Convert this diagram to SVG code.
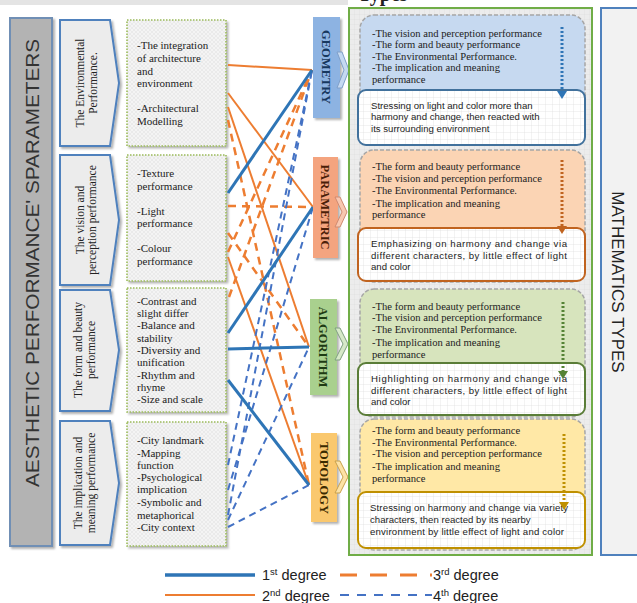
<svg xmlns="http://www.w3.org/2000/svg" width="637" height="603" viewBox="0 0 637 603">
<defs>
<pattern id="hatch" width="4" height="4" patternUnits="userSpaceOnUse">
<rect width="4" height="4" fill="#f4f4f4"/>
<path d="M0 4L4 0M0 0L4 4" stroke="#e2e2e2" stroke-width="0.6"/>
</pattern>
<pattern id="grid" width="7" height="7" patternUnits="userSpaceOnUse">
<rect width="7" height="7" fill="#ffffff"/>
<path d="M7 0V7M0 7H7" stroke="#dedede" stroke-width="0.7"/>
</pattern>
<pattern id="grid2" width="5" height="5" patternUnits="userSpaceOnUse">
<rect width="5" height="5" fill="#ececec"/>
<path d="M5 0V5M0 5H5" stroke="#dcdcdc" stroke-width="0.6"/>
</pattern>
<filter id="sh" x="-20%" y="-20%" width="140%" height="140%">
<feDropShadow dx="2" dy="2" stdDeviation="1.2" flood-color="#000" flood-opacity="0.3"/>
</filter>
<style>
.chev{fill:#ececec;stroke:#4f81bd;stroke-width:2;filter:url(#sh)}
.lt{font-family:"Liberation Serif",serif;font-size:11.5px;fill:#222;text-anchor:middle}
.tb{fill:url(#hatch);stroke:#9bbb59;stroke-width:1.6;stroke-dasharray:1.5 1.5;filter:url(#sh)}
.tx{font-family:"Liberation Serif",serif;font-size:11px;fill:#222}
.cat{font-family:"Liberation Serif",serif;font-size:12.5px;font-weight:bold;text-anchor:middle}
.pn{stroke:#a6a6a6;stroke-width:1.5;stroke-dasharray:4 2}
.wb{fill:url(#grid);stroke-width:2}
.pt{font-family:"Liberation Serif",serif;font-size:10.6px;fill:#222}
.ws{font-family:"Liberation Sans",sans-serif;font-size:9.6px;fill:#222}
.c1{stroke:#2e75b6;stroke-width:3;fill:none}
.c2{stroke:#ed7d31;stroke-width:2;fill:none}
.c3{stroke:#ed7d31;stroke-width:2.5;stroke-dasharray:8 6;fill:none}
.c4{stroke:#4472c4;stroke-width:2;stroke-dasharray:7 5;fill:none}
.lg{font-family:"Liberation Sans",sans-serif;font-size:14.5px;fill:#222}
.dot{stroke-width:3;stroke-dasharray:2 2;fill:none}
</style>
</defs>
<rect width="637" height="603" fill="#ffffff"/>
<rect x="0" y="0" width="348" height="5" fill="#e4e4e4"/>
<text x="358" y="1" font-family="Liberation Serif, serif" font-size="20" font-weight="bold" fill="#222">Types</text>

<g id="banner">
<rect x="10" y="18" width="42" height="528" fill="#b3b3b3" stroke="#6f8fb5" stroke-width="2" filter="url(#sh)"/>
<text transform="translate(39,263) rotate(-90)" text-anchor="middle" font-family="Liberation Sans, sans-serif" font-size="19" fill="#333" textLength="448" lengthAdjust="spacingAndGlyphs">AESTHETIC PERFORMANCE' SPARAMETERS</text>
</g>

<g id="p1">
<polygon class="chev" points="60,20 110,20 119,83 110,146 60,146"/>
<text class="lt" transform="translate(84,83) rotate(-90)">The Environmental</text>
<text class="lt" transform="translate(97,83) rotate(-90)">Performance.</text>
</g>
<g id="p2">
<polygon class="chev" points="60,155 110,155 119,220 110,285 60,285"/>
<text class="lt" transform="translate(84,220) rotate(-90)">The vision and</text>
<text class="lt" transform="translate(96,220) rotate(-90)">perception performance</text>
</g>
<g id="p3">
<polygon class="chev" points="60,290 110,290 119,350 110,411 60,411"/>
<text class="lt" transform="translate(82,350) rotate(-90)">The form and beauty</text>
<text class="lt" transform="translate(95,350) rotate(-90)">performance</text>
</g>
<g id="p4">
<polygon class="chev" points="60,421 110,421 119,483 110,545 60,545"/>
<text class="lt" transform="translate(82,483) rotate(-90)">The implication and</text>
<text class="lt" transform="translate(95,483) rotate(-90)">meaning performance</text>
</g>

<g id="t1">
<rect class="tb" x="127" y="20" width="99" height="126"/>
<text class="tx" x="137" y="49">-The  integration</text>
<text class="tx" x="137" y="62">of architecture</text>
<text class="tx" x="137" y="75">and</text>
<text class="tx" x="137" y="87">environment</text>
<text class="tx" x="137" y="112">-Architectural</text>
<text class="tx" x="137" y="125">Modelling</text>
</g>
<g id="t2">
<rect class="tb" x="127" y="155" width="99" height="126"/>
<text class="tx" x="137" y="177">-Texture</text>
<text class="tx" x="137" y="190">performance</text>
<text class="tx" x="137" y="215">-Light</text>
<text class="tx" x="137" y="227">performance</text>
<text class="tx" x="137" y="252">-Colour</text>
<text class="tx" x="137" y="265">performance</text>
</g>
<g id="t3">
<rect class="tb" x="127" y="288" width="99" height="124"/>
<text class="tx" x="137" y="305">-Contrast and</text>
<text class="tx" x="137" y="317">slight differ</text>
<text class="tx" x="137" y="329">-Balance  and</text>
<text class="tx" x="137" y="342">stability</text>
<text class="tx" x="137" y="354">-Diversity  and</text>
<text class="tx" x="137" y="366">unification</text>
<text class="tx" x="137" y="379">-Rhythm  and</text>
<text class="tx" x="137" y="391">rhyme</text>
<text class="tx" x="137" y="403">-Size and  scale</text>
</g>
<g id="t4">
<rect class="tb" x="127" y="422" width="99" height="124"/>
<text class="tx" x="137" y="444">-City landmark</text>
<text class="tx" x="137" y="457">-Mapping</text>
<text class="tx" x="137" y="469">function</text>
<text class="tx" x="137" y="481">-Psychological</text>
<text class="tx" x="137" y="493">implication</text>
<text class="tx" x="137" y="506">-Symbolic and</text>
<text class="tx" x="137" y="519">metaphorical</text>
<text class="tx" x="137" y="531">-City context</text>
</g>

<g id="connectors">
<line class="c2" x1="228" y1="65" x2="312" y2="70"/>
<line class="c2" x1="228" y1="93" x2="313" y2="207"/>
<line class="c2" x1="228" y1="107" x2="309" y2="347"/>
<line class="c2" x1="228" y1="257" x2="309" y2="485"/>
<line class="c3" x1="228" y1="206" x2="313" y2="207"/>
<line class="c3" x1="228" y1="252" x2="312" y2="70"/>
<line class="c3" x1="229" y1="297" x2="312" y2="70"/>
<line class="c3" x1="228" y1="120" x2="309" y2="485"/>
<line class="c3" x1="228" y1="233" x2="309" y2="347"/>
<line class="c4" x1="228" y1="465" x2="312" y2="70"/>
<line class="c4" x1="228" y1="515" x2="312" y2="70"/>
<line class="c4" x1="228" y1="490" x2="313" y2="207"/>
<line class="c4" x1="228" y1="520" x2="309" y2="347"/>
<line class="c4" x1="228" y1="527" x2="309" y2="485"/>
<line class="c1" x1="228" y1="193" x2="312" y2="70"/>
<line class="c1" x1="228" y1="333" x2="313" y2="207"/>
<line class="c1" x1="228" y1="349" x2="309" y2="347"/>
<line class="c1" x1="228" y1="380" x2="309" y2="485"/>
</g>

<g id="geometry">
<rect x="313" y="17" width="27" height="101" fill="#8db3e2" filter="url(#sh)"/>
<polygon points="337,52 342,52 349,70 342,88 337,88 344,70" fill="#c5d9f1" stroke="#7f9fc9" stroke-width="1"/>
<text class="cat" fill="#17375e" transform="translate(322,67) rotate(90)">GEOMETRY</text>
</g>
<g id="parametric">
<rect x="313" y="157" width="25" height="101" fill="#f4a47f" filter="url(#sh)"/>
<polygon points="335,197 340,197 347,212 340,227 335,227 342,212" fill="#f8c7b0" stroke="#d08a70" stroke-width="1"/>
<text class="cat" fill="#4a1e08" transform="translate(321,207) rotate(90)">PARAMETRIC</text>
</g>
<g id="algorithm">
<rect x="310" y="299" width="27" height="96" fill="#a9d08e" filter="url(#sh)"/>
<polygon points="335,328 340,328 348,344 340,360 335,360 343,344" fill="#d7e9c8" stroke="#7f9f80" stroke-width="1"/>
<text class="cat" fill="#1e3b13" transform="translate(319,347) rotate(90)">ALGORITHM</text>
</g>
<g id="topology">
<rect x="311" y="433" width="26" height="89" fill="#fac86e" filter="url(#sh)"/>
<polygon points="335,461 340,461 348,477 340,493 335,493 343,477" fill="#fde2a6" stroke="#c9a04a" stroke-width="1"/>
<text class="cat" fill="#3a2a00" transform="translate(320,478) rotate(90)">TOPOLOGY</text>
</g>

<g id="math-panel">
<rect x="349" y="8" width="243" height="547" fill="url(#grid2)" stroke="#70ad47" stroke-width="2"/>
</g>

<g id="g-desc">
<rect class="pn" x="360" y="15" width="225" height="130" rx="14" fill="#c6d9f0"/>
<text class="pt" x="372" y="37">-The vision and perception  performance</text>
<text class="pt" x="372" y="48">-The form and beauty performance</text>
<text class="pt" x="372" y="60">-The Environmental  Performance.</text>
<text class="pt" x="372" y="71">-The implication and meaning</text>
<text class="pt" x="372" y="83">performance</text>
<rect class="wb" x="358" y="90" width="227" height="55" rx="8" stroke="#41719c"/>
<text class="ws" x="371" y="108.5">Stressing on light and color more than</text>
<text class="ws" x="371" y="120">harmony and change, then reacted with</text>
<text class="ws" x="371" y="131.5">its surrounding  environment</text>
<line class="dot" x1="562" y1="27" x2="562" y2="92" stroke="#2e75b6"/>
<polygon points="557,91 567,91 562,99" fill="#2e75b6"/>
</g>
<g id="p-desc">
<rect class="pn" x="360" y="150" width="225" height="132" rx="14" fill="#fbd4b4"/>
<text class="pt" x="372" y="170">-The form and beauty performance</text>
<text class="pt" x="372" y="182">-The vision and perception  performance</text>
<text class="pt" x="372" y="194">-The Environmental  Performance.</text>
<text class="pt" x="372" y="207">-The implication and meaning</text>
<text class="pt" x="372" y="218">performance</text>
<rect class="wb" x="358" y="228" width="227" height="53" rx="8" stroke="#c0631f"/>
<text class="ws" x="371" y="247" textLength="196">Emphasizing  on harmony and change via</text>
<text class="ws" x="371" y="258.5" textLength="196">different characters, by little  effect of light</text>
<text class="ws" x="371" y="270">and color</text>
<line class="dot" x1="562" y1="160" x2="562" y2="228" stroke="#c0631f"/>
<polygon points="557,226 567,226 562,234" fill="#c0631f"/>
</g>
<g id="a-desc">
<rect class="pn" x="360" y="289" width="225" height="128" rx="14" fill="#d7e4bd"/>
<text class="pt" x="372" y="310">-The form and beauty performance</text>
<text class="pt" x="372" y="321">-The vision and perception  performance</text>
<text class="pt" x="372" y="333">-The Environmental  Performance.</text>
<text class="pt" x="372" y="346">-The implication and meaning</text>
<text class="pt" x="372" y="358">performance</text>
<rect class="wb" x="358" y="363" width="227" height="52" rx="8" stroke="#5a7d38"/>
<text class="ws" x="371" y="382" textLength="196">Highlighting  on harmony and change via</text>
<text class="ws" x="371" y="393.5" textLength="196">different characters, by little effect of light</text>
<text class="ws" x="371" y="405">and color</text>
<line class="dot" x1="563" y1="302" x2="563" y2="372" stroke="#548235"/>
<polygon points="558,371 568,371 563,379" fill="#548235"/>
</g>
<g id="t-desc">
<rect class="pn" x="360" y="419" width="225" height="131" rx="14" fill="#ffe8a6"/>
<text class="pt" x="372" y="434">-The form and beauty performance</text>
<text class="pt" x="372" y="446">-The Environmental  Performance.</text>
<text class="pt" x="372" y="457">-The vision and perception  performance</text>
<text class="pt" x="372" y="470">-The implication and meaning</text>
<text class="pt" x="372" y="482">performance</text>
<rect class="wb" x="358" y="492" width="227" height="56" rx="8" stroke="#bf9000"/>
<text class="ws" x="370" y="511" textLength="198">Stressing on harmony and change via variety</text>
<text class="ws" x="370" y="522.5">characters, then reacted by its nearby</text>
<text class="ws" x="370" y="535" textLength="194">environment by little effect of light and color</text>
<line class="dot" x1="564" y1="434" x2="564" y2="503" stroke="#bf9000"/>
<polygon points="559,502 569,502 564,510" fill="#bf9000"/>
</g>

<g id="math-types">
<rect x="601" y="8" width="40" height="547" fill="#f2f2f2" stroke="#4f81bd" stroke-width="2"/>
<text transform="translate(612,282) rotate(90)" text-anchor="middle" font-family="Liberation Sans, sans-serif" font-size="17" fill="#222">MATHEMATICS TYPES</text>
</g>

<g id="legend">
<line x1="165" y1="575" x2="255" y2="575" stroke="#2e75b6" stroke-width="3.5"/>
<text class="lg" x="262" y="580">1<tspan font-size="9.5" dy="-5">st</tspan><tspan dy="5"> degree</tspan></text>
<line x1="340" y1="575" x2="432" y2="575" stroke="#ed7d31" stroke-width="3" stroke-dasharray="17 13"/>
<text class="lg" x="433" y="580">3<tspan font-size="9.5" dy="-5">rd</tspan><tspan dy="5"> degree</tspan></text>
<line x1="165" y1="595" x2="255" y2="595" stroke="#ed7d31" stroke-width="2"/>
<text class="lg" x="262" y="601">2<tspan font-size="9.5" dy="-5">nd</tspan><tspan dy="5"> degree</tspan></text>
<line x1="340" y1="595" x2="432" y2="595" stroke="#4472c4" stroke-width="2" stroke-dasharray="9 8"/>
<text class="lg" x="433" y="601">4<tspan font-size="9.5" dy="-5">th</tspan><tspan dy="5"> degree</tspan></text>
</g>
</svg>
